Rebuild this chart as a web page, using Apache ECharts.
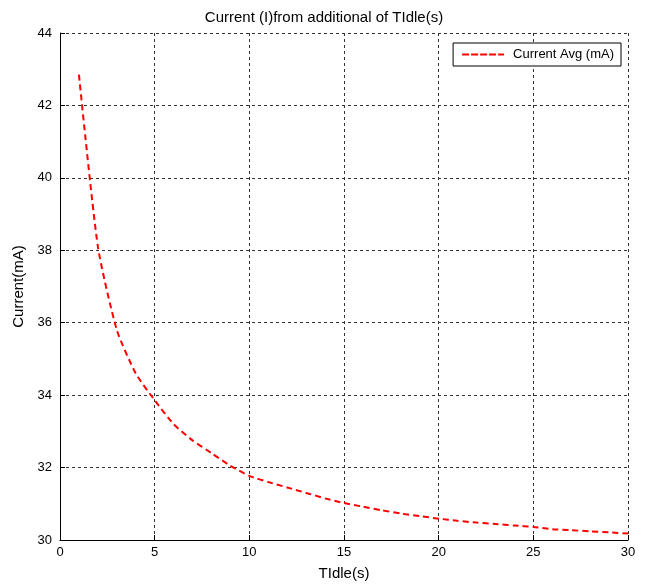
<!DOCTYPE html>
<html>
<head>
<meta charset="utf-8">
<script src="https://cdn.jsdelivr.net/npm/echarts@6/dist/echarts.min.js"></script>
<style>
html, body { margin: 0; padding: 0; background: #fff; }
#chart { width: 648px; height: 587px; }
</style>
</head>
<body>
<div id="chart"></div>
<script>
// TIdle(s) values and measured average current (mA)
var tIdle = [1, 2, 3, 4, 5, 6, 7, 8, 9, 10, 11, 12, 13, 14, 15, 16, 17, 18, 19, 20, 21, 22, 23, 24, 25, 26, 27, 28, 29, 30];
var currentAvg = [42.85, 38.1, 35.8, 34.6, 33.86, 33.2, 32.75, 32.4, 32.05, 31.77, 31.6, 31.45, 31.3, 31.15, 31.02, 30.92, 30.82, 30.73, 30.66, 30.59, 30.53, 30.48, 30.44, 30.4, 30.36, 30.3, 30.27, 30.24, 30.21, 30.18];

var fontFam = '"Liberation Sans", Arial, sans-serif';

function AddCurrentChart(id) {
    var echart = echarts.init(document.getElementById(id));
    var points = tIdle.map((x, i) => [x, currentAvg[i]]);

    var option = {
        animation: false,
        title: {
            text: 'Current (I)from additional of TIdle(s)',
            left: 'center',
            top: 5,
            textStyle: { fontFamily: fontFam, fontSize: 15, fontWeight: 'normal', color: '#000' }
        },
        legend: {
            data: ['Current Avg (mA)'],
            right: 27,
            top: 43,
            backgroundColor: '#fff',
            borderColor: '#000',
            borderWidth: 1,
            borderRadius: 0,
            padding: [5, 7, 5, 9],
            itemWidth: 42,
            itemHeight: 2,
            itemGap: 10,
            icon: 'path://M0,0 L7,0 L7,2 L0,2 Z M9,0 L16,0 L16,2 L9,2 Z M18,0 L25,0 L25,2 L18,2 Z M27,0 L34,0 L34,2 L27,2 Z M36,0 L42,0 L42,2 L36,2 Z',
            textStyle: { fontFamily: fontFam, fontSize: 13, color: '#000', padding: [0, 0, 0, 4] }
        },
        grid: { left: 60, right: 20, top: 33, bottom: 47 },
        xAxis: {
            type: 'value',
            min: 0,
            max: 30,
            interval: 5,
            name: 'TIdle(s)',
            nameLocation: 'middle',
            nameGap: 26,
            nameTextStyle: { fontFamily: fontFam, fontSize: 15, color: '#000' },
            axisLine: { lineStyle: { color: '#000', width: 1 } },
            axisTick: { inside: true, length: 5, lineStyle: { color: '#000' } },
            axisLabel: { fontFamily: fontFam, fontSize: 13, color: '#000', margin: 6 },
            splitLine: { show: true, lineStyle: { type: [3, 3], color: '#333', width: 1 } }
        },
        yAxis: {
            type: 'value',
            min: 30,
            max: 44,
            interval: 2,
            name: 'Current(mA)',
            nameLocation: 'middle',
            nameGap: 33,
            nameTextStyle: { fontFamily: fontFam, fontSize: 15, color: '#000' },
            axisLine: { show: true, lineStyle: { color: '#000', width: 1 } },
            axisTick: { show: true, inside: true, length: 5, lineStyle: { color: '#000' } },
            axisLabel: { fontFamily: fontFam, fontSize: 13, color: '#000', margin: 8 },
            splitLine: { show: true, lineStyle: { type: [3, 3], color: '#333', width: 1 } }
        },
        series: [
            {
                name: 'Current Avg (mA)',
                type: 'line',
                data: points,
                showSymbol: false,
                smooth: 0.2,
                itemStyle: { color: '#ff0000' },
                lineStyle: { color: '#ff0000', width: 2, type: [6, 4] }
            }
        ]
    };
    echart.setOption(option);
}

AddCurrentChart('chart');
</script>
</body>
</html>
